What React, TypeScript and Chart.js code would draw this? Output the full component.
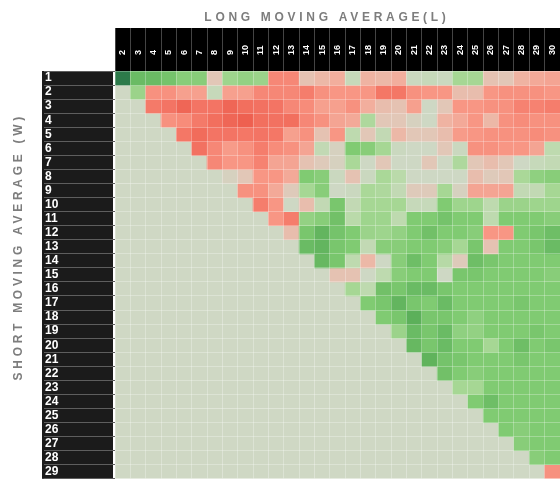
import React, { useEffect, useRef } from 'react';
import { Chart, registerables } from 'chart.js';

Chart.register(...registerables);

// Long moving average (columns) and short moving average (rows)
const longMA = ['2','3','4','5','6','7','8','9','10','11','12','13','14','15','16','17','18','19','20','21','22','23','24','25','26','27','28','29','30'];
const shortMA = ['1','2','3','4','5','6','7','8','9','10','11','12','13','14','15','16','17','18','19','20','21','22','23','24','25','26','27','28','29'];

// Relative score per cell (red < 0 < green); row W holds values for L = W+1 .. 30
const row1 = [4, 2.6, 2.6, 2.3, 1.8, 1.8, -0.5, 1.2, 1.5, 1.3, -1.8, -1.8, -0.6, -0.8, -1, 0.2, -0.9, -0.8, -1, 0.1, 0.2, 0.1, 1, 1, -0.6, -0.5, -0.9, -1.1, -1.2];
const row2 = [1.3, -1.6, -1.6, -1.3, -1.3, 0.2, -1.3, -1.3, -1.8, -1.8, -1.8, -2, -1.6, -1.5, -1.5, -1.5, -2.2, -2.2, -1.6, -1.5, -1.5, -0.7, -0.7, -1.5, -1.6, -1.6, -1.6, -1.5];
const row3 = [-2.1, -2.3, -2.8, -2.3, -2.3, -2.8, -2.5, -2.4, -2.3, -1.8, -1.7, -1.3, -1.3, -1.6, -1, -0.7, -0.6, -1.3, 0, -0.5, -1.5, -1.5, -1.6, -1.6, -1.9, -1.9, -2];
const row4 = [-1.6, -1.7, -2.1, -2.5, -2.8, -3, -2.5, -2.4, -2.5, -1.8, -1.6, -1.2, -1.1, 0.8, -0.5, -0.5, -0.2, 0, -0.9, -1.1, -1.5, -0.8, -1.6, -1.7, -1.6, -1.6];
const row5 = [-2.2, -2.6, -2.3, -2.3, -2.2, -2.3, -2.2, -1.3, -1.6, -0.6, -1.5, 0.4, -0.5, 0.3, -0.8, -0.5, -0.5, -0.7, -1.4, -1.5, -1.6, -1.6, -1.6, -1.7, -1.6];
const row6 = [-2.4, -1.8, -1.4, -1.6, -2, -1.7, -1.6, -1.2, 0.3, -0.2, 2, 1.8, 1, 0.1, 0, 0, -0.5, 0.1, -1.6, -1.6, -1.5, -1.5, -1.2, 0.4];
const row7 = [-1.8, -1.5, -1.5, -1.9, -1.2, -1.2, -0.6, -0.4, -0.2, 0.9, 0, -0.5, 0, 0, -0.5, 0, 0.8, -0.5, -0.7, -0.5, 0, 0.2, 0.3];
const row8 = [-0.2, -0.5, -1.5, -1.5, -1.1, 2, 1.8, 0.1, -0.6, 0.1, 0.9, 0.5, 0, 0, 0, 0, -0.7, -0.4, -0.5, 0.9, 1.6, 1.8];
const row9 = [-1.6, -1.6, -1.1, -0.4, 1, 1.8, 0, 0.1, 0.9, 0.8, 0.3, -0.4, -0.4, 1, -0.2, -1.2, -1.2, -1.2, 0.3, 0.3, 1];
const row10 = [-2, -1.5, 0, -0.7, 0.3, 2.2, 0.3, 1, 1, 1, 0.2, 0.2, 2, 1.2, 1.2, 0.4, 1.3, 1.3, 1.2, 1.2];
const row11 = [-1.5, -2, 1.5, 1.8, 2.4, 0.5, 1.2, 1.2, 0.4, 2, 2, 2.3, 2, 2, 0.4, 2, 2, 2, 1.8];
const row12 = [-0.7, 2.2, 2.8, 2.3, 2, 1.3, 1.2, 1.5, 2, 2.4, 2, 2, 1.8, -1.5, -1.5, 2, 2.2, 2.5];
const row13 = [2.6, 2.8, 2.2, 2, 0.3, 1.8, 1.8, 2, 2, 1.8, 1, 2.2, -0.6, 2, 2, 2.2, 2.6];
const row14 = [2.7, 2.2, 0.4, -0.8, 0, 1.8, 2.5, 2, 0.6, -0.4, 2.5, 2.2, 2, 2, 2, 2];
const row15 = [-0.6, -0.6, 0, 0.4, 1.8, 2, 2, 0, 2.2, 2.2, 2, 2, 2, 2, 1.8];
const row16 = [1, 0.4, 2.4, 2.2, 2.6, 2.6, 2.2, 2, 2, 2, 2, 2, 2, 2];
const row17 = [2, 2.2, 2.8, 2.2, 2, 2.6, 2, 2, 2, 2, 2.2, 2, 2];
const row18 = [2, 2.2, 3, 2.2, 2.2, 2, 1.6, 2, 2, 2, 2, 2];
const row19 = [1.3, 2.6, 2.2, 2.6, 1.6, 1.5, 2, 2, 2, 2.2, 2];
const row20 = [2.7, 2.2, 2.6, 2, 2, 1, 2, 2.5, 2, 2.2];
const row21 = [2.9, 2.3, 2.2, 2, 2, 2, 2.2, 2, 2];
const row22 = [2.4, 2, 1.8, 2, 2, 2, 2, 2];
const row23 = [1, 1, 2, 2, 2, 2, 2];
const row24 = [2, 2.5, 2, 2, 2, 2];
const row25 = [2, 2, 2, 2, 2];
const row26 = [2, 1.8, 2, 2];
const row27 = [1.8, 2, 2];
const row28 = [1.8, 2];
const row29 = [-1.6];

const rows = [row1, row2, row3, row4, row5, row6, row7, row8, row9, row10, row11, row12, row13, row14, row15, row16, row17, row18, row19, row20, row21, row22, row23, row24, row25, row26, row27, row28, row29];

const STOPS: [number, number[]][] = [
  [-3, [238, 96, 80]],
  [-2, [245, 125, 108]],
  [-1.5, [248, 150, 132]],
  [-1, [242, 174, 157]],
  [-0.5, [226, 199, 183]],
  [0, [206, 216, 196]],
  [0.5, [186, 218, 170]],
  [1, [166, 215, 148]],
  [2, [128, 203, 114]],
  [3, [92, 176, 90]],
  [4, [44, 122, 74]],
];

function heatColor(v: number): string {
  if (v <= STOPS[0][0]) return `rgb(${STOPS[0][1].join(',')})`;
  for (let i = 1; i < STOPS.length; i++) {
    const [v1, c1] = STOPS[i];
    const [v0, c0] = STOPS[i - 1];
    if (v <= v1) {
      const t = (v - v0) / (v1 - v0);
      const c = c0.map((a, k) => Math.round(a + (c1[k] - a) * t));
      return `rgb(${c.join(',')})`;
    }
  }
  return `rgb(${STOPS[STOPS.length - 1][1].join(',')})`;
}

const EMPTY = 'rgb(207,216,196)';
const FONT = "'Liberation Sans', Arial, sans-serif";

const framePlugin = {
  id: 'frame',
  beforeDraw(chart: any) {
    const { ctx, scales } = chart;
    const x = scales.x;
    const y = scales.y;
    ctx.save();
    ctx.fillStyle = '#000';
    ctx.fillRect(x.left, x.top, x.right - x.left, x.bottom - x.top);
    ctx.fillStyle = '#1b1b1b';
    ctx.fillRect(y.left - 3, y.top, y.right - y.left + 1, y.bottom - y.top);
    ctx.restore();
    ctx.letterSpacing = '3.7px';
  },
  beforeDatasetsDraw(chart: any) {
    chart.ctx.letterSpacing = '0px';
  },
};

export default function App() {
  const ref = useRef<HTMLCanvasElement>(null);
  useEffect(() => {
    const datasets = shortMA.map((w, i) => {
      const vals = rows[i];
      const off = longMA.length - vals.length;
      return {
        label: 'W=' + w,
        xAxisID: 'x',
        yAxisID: 'y',
        data: longMA.map(() => 1),
        backgroundColor: longMA.map((_, j) => (j < off ? EMPTY : heatColor(vals[j - off]))),
        borderWidth: 0,
        barPercentage: 1,
        categoryPercentage: 1,
      };
    });
    const chart = new Chart(ref.current!, {
      type: 'bar',
      data: { labels: longMA, datasets },
      plugins: [framePlugin],
      options: {
        responsive: false,
        maintainAspectRatio: false,
        devicePixelRatio: 1,
        animation: false,
        layout: { padding: 0 },
        plugins: { legend: { display: false }, tooltip: { enabled: false }, title: { display: false } },
        scales: {
          x: {
            type: 'category',
            position: 'top',
            stacked: true,
            offset: true,
            weight: 0,
            border: { display: false },
            grid: {
              offset: true,
              color: 'rgba(255,255,255,0.28)',
              tickColor: '#444',
              tickLength: 43,
              lineWidth: 1,
              z: 1,
            },
            ticks: {
              color: '#fff',
              font: { family: FONT, size: 9, weight: 'bold', lineHeight: 1.2 },
              minRotation: 90,
              maxRotation: 90,
              autoSkip: false,
              padding: -27,
              labelOffset: 10.8,
              z: 1,
            },
            afterFit: (s: any) => { s.height = 43; },
          },
          y: {
            type: 'linear',
            position: 'left',
            stacked: true,
            reverse: true,
            min: 0,
            max: shortMA.length,
            weight: 0,
            border: { display: false },
            afterBuildTicks: (s: any) => {
              s.ticks = shortMA.map((_, i) => ({ value: i + 0.5 }));
            },
            grid: {
              offset: true,
              color: 'rgba(255,255,255,0.28)',
              tickColor: '#5e5e5e',
              tickLength: 71,
              lineWidth: 1,
              z: 1,
            },
            ticks: {
              color: '#fff',
              font: { family: FONT, size: 12, weight: 'bold' },
              crossAlign: 'far',
              autoSkip: false,
              z: 1,
              callback: (_v: any, i: number) => shortMA[i],
            },
            afterFit: (s: any) => { s.width = 70; },
          },
          xTitle: {
            type: 'linear',
            position: 'top',
            weight: 5,
            grid: { display: false },
            border: { display: false },
            ticks: { display: false },
            title: {
              display: true,
              text: 'LONG MOVING AVERAGE(L)   ',
              color: '#7d7d7d',
              font: { family: FONT, size: 12, weight: 'bold' },
              padding: { top: 10, bottom: 0 },
            },
            afterFit: (s: any) => { s.height = 28; },
          },
          yTitle: {
            type: 'linear',
            position: 'left',
            weight: 5,
            grid: { display: false },
            border: { display: false },
            ticks: { display: false },
            title: {
              display: true,
              text: '        SHORT MOVING AVERAGE (W)',
              color: '#7d7d7d',
              font: { family: FONT, size: 12, weight: 'bold' },
              padding: { top: 11, bottom: 0 },
            },
            afterFit: (s: any) => { s.width = 45; },
          },
        },
      } as any,
    });
    return () => chart.destroy();
  }, []);
  return (
    <div style={{ position: 'fixed', left: 0, top: 0, width: 560, height: 489, background: '#fff' }}>
      <canvas ref={ref} width={560} height={489} style={{ display: 'block', width: 560, height: 489 }} />
    </div>
  );
}
